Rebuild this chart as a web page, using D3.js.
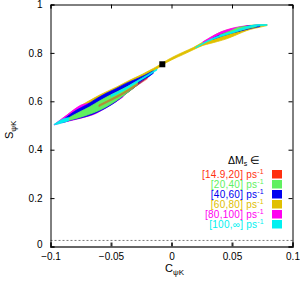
<!DOCTYPE html>
<html>
<head>
<meta charset="utf-8">
<script src="https://cdn.jsdelivr.net/npm/d3@7"></script>
<style>
  body { margin: 0; background: #fff; }
  svg { display: block; font-family: "Liberation Sans", Arial, sans-serif; }
  .tick text { font-size: 10px; fill: #000; }
</style>
</head>
<body>
<div id="chart"></div>
<script>
const width = 300;
const height = 282;

// tick values
const xTicks = [-0.1, -0.05, 0, 0.05, 0.1];
const yTicks = [0, 0.2, 0.4, 0.6, 0.8, 1];

// band outlines, rows are [C, S low, S high]
const yellowBand = [
  [-0.096, 0.505, 0.505], [-0.09, 0.515, 0.528], [-0.084, 0.523, 0.552], [-0.075, 0.532, 0.582],
  [-0.067, 0.542, 0.605], [-0.059, 0.563, 0.627], [-0.051, 0.585, 0.646], [-0.045, 0.605, 0.660],
  [-0.037, 0.633, 0.681], [-0.03, 0.660, 0.698], [-0.024, 0.688, 0.712], [-0.018, 0.712, 0.728],
  [-0.012, 0.734, 0.744], [-0.008, 0.749, 0.757], [0, 0.771, 0.780], [0.01, 0.794, 0.804],
  [0.018, 0.813, 0.822], [0.026, 0.831, 0.845], [0.032, 0.839, 0.862], [0.038, 0.847, 0.880],
  [0.046, 0.859, 0.895], [0.052, 0.871, 0.902], [0.059, 0.886, 0.909], [0.065, 0.897, 0.914],
  [0.073, 0.906, 0.916], [0.079, 0.913, 0.917]
];
const magentaLow = [
  [-0.097, 0.502, 0.504], [-0.092, 0.510, 0.523], [-0.086, 0.517, 0.545], [-0.08, 0.524, 0.568],
  [-0.075, 0.530, 0.584], [-0.07, 0.537, 0.590], [-0.064, 0.546, 0.594], [-0.058, 0.562, 0.600],
  [-0.052, 0.580, 0.606], [-0.046, 0.598, 0.612], [-0.04, 0.618, 0.625]
];
const magentaHigh = [
  [0.026, 0.842, 0.846], [0.032, 0.856, 0.864], [0.04, 0.873, 0.885], [0.048, 0.886, 0.899],
  [0.056, 0.897, 0.908], [0.064, 0.906, 0.913]
];
const blueLow = [
  [-0.09, 0.512, 0.521], [-0.084, 0.521, 0.545], [-0.078, 0.528, 0.565], [-0.07, 0.538, 0.586],
  [-0.062, 0.553, 0.611], [-0.054, 0.573, 0.633], [-0.046, 0.598, 0.652], [-0.038, 0.630, 0.673],
  [-0.03, 0.660, 0.690], [-0.022, 0.690, 0.708], [-0.015, 0.716, 0.726]
];
const blueHigh = [
  [0.034, 0.856, 0.860], [0.042, 0.870, 0.878], [0.05, 0.882, 0.890], [0.058, 0.892, 0.906],
  [0.066, 0.902, 0.913], [0.073, 0.909, 0.915]
];
const greenLow = [
  [-0.088, 0.517, 0.522], [-0.082, 0.525, 0.540], [-0.076, 0.533, 0.556], [-0.068, 0.546, 0.576],
  [-0.06, 0.562, 0.600], [-0.052, 0.583, 0.622], [-0.044, 0.608, 0.642], [-0.036, 0.638, 0.662],
  [-0.028, 0.668, 0.684]
];
const greenHigh = [
  [0.04, 0.868, 0.874], [0.048, 0.880, 0.889], [0.056, 0.892, 0.906], [0.064, 0.902, 0.910],
  [0.07, 0.908, 0.913]
];
const cyanTip = [
  [-0.097, 0.503, 0.505], [-0.093, 0.507, 0.518], [-0.089, 0.513, 0.528], [-0.085, 0.520, 0.532]
];
const cyanCore = [
  [-0.05, 0.620, 0.626], [-0.04, 0.644, 0.650], [-0.03, 0.674, 0.680], [-0.02, 0.704, 0.709],
  [-0.012, 0.729, 0.733]
];
const cyanHigh = [
  [0.02, 0.820, 0.823], [0.03, 0.847, 0.851], [0.04, 0.867, 0.872], [0.05, 0.882, 0.887],
  [0.068, 0.909, 0.915], [0.073, 0.912, 0.917], [0.079, 0.914, 0.917]
];
const redCore = [
  [-0.06, 0.578, 0.585], [-0.05, 0.603, 0.610], [-0.04, 0.629, 0.636], [-0.03, 0.660, 0.667],
  [-0.02, 0.692, 0.698]
];

// best fit point and lower line
const bestFit = [-0.0076, 0.753];
const dashedS = 0.025;

// legend
const legendLabels = ["[14.9,20]", "[20,40]", "[40,60]", "[60,80]", "[80,100]", "[100,\u221e]"];
const legendColors = ["#ff3010", "#60f060", "#0000f0", "#e0c000", "#ff00f0", "#00f0f0"];

const series = [
  { color: legendColors[3], parts: [yellowBand] },
  { color: legendColors[4], parts: [magentaLow, magentaHigh] },
  { color: legendColors[2], parts: [blueLow, blueHigh] },
  { color: legendColors[1], parts: [greenLow, greenHigh] },
  { color: legendColors[5], parts: [cyanTip, cyanCore, cyanHigh] },
  { color: legendColors[0], parts: [redCore], opacity: 0.45 }
];

const svg = d3.select("#chart")
    .append("svg")
    .attr("width", width)
    .attr("height", height);

const x = d3.scaleLinear().domain([-0.1, 0.1]).range([50.5, 292.5]);
const y = d3.scaleLinear().domain([0, 1]).range([246.5, 4.5]);

// bands
const area = d3.area()
    .x(d => x(d[0]))
    .y0(d => y(d[1]))
    .y1(d => y(d[2]))
    .curve(d3.curveMonotoneX);

series.forEach(s => {
    s.parts.forEach(p => {
        svg.append("path")
            .attr("d", area(p))
            .attr("fill", s.color)
            .attr("fill-opacity", s.opacity || 1)
            .attr("stroke", s.color)
            .attr("stroke-opacity", s.opacity || 1)
            .attr("stroke-width", 0.8);
    });
});

// dashed line
svg.append("line")
    .attr("x1", x(-0.1)).attr("x2", x(0.1))
    .attr("y1", y(dashedS)).attr("y2", y(dashedS))
    .attr("stroke", "#555")
    .attr("stroke-width", 0.8)
    .attr("stroke-dasharray", "2,2");

// best fit square
svg.append("rect")
    .attr("x", x(bestFit[0]) - 3)
    .attr("y", y(bestFit[1]) - 3)
    .attr("width", 6)
    .attr("height", 6)
    .attr("fill", "#000");

// axes
const gBottom = svg.append("g")
    .attr("transform", `translate(0,${y(0)})`)
    .call(d3.axisBottom(x).tickValues(xTicks).tickSize(-4).tickPadding(6).tickFormat(d3.format("")));
gBottom.select(".domain").attr("stroke", "#666").attr("stroke-width", 2);
gBottom.selectAll(".tick line").attr("stroke-width", 2).attr("stroke", "#333");

const gLeft = svg.append("g")
    .attr("transform", `translate(${x(-0.1)},0)`)
    .call(d3.axisLeft(y).tickValues(yTicks).tickSize(-4).tickPadding(8).tickFormat(d3.format("")));
gLeft.selectAll(".tick text").filter(d => d === 0).attr("dy", "0.1em");

svg.append("g")
    .attr("transform", `translate(0,${y(1)})`)
    .call(d3.axisTop(x).tickValues(xTicks).tickSize(-4).tickFormat(""));

svg.append("g")
    .attr("transform", `translate(${x(0.1)},0)`)
    .call(d3.axisRight(y).tickValues(yTicks).tickSize(-4).tickFormat(""));

svg.selectAll(".domain").filter(function () { return this.parentNode !== gBottom.node(); })
    .attr("stroke", "#000");

// axis labels
const xl = svg.append("text")
    .attr("x", 165)
    .attr("y", 272)
    .attr("font-size", 11);
xl.append("tspan").text("C");
xl.append("tspan").attr("dy", 3).attr("font-size", 8).text("\u03c8K");

const yl = svg.append("text")
    .attr("transform", "translate(13,139) rotate(-90)")
    .attr("font-size", 11);
yl.append("tspan").text("S");
yl.append("tspan").attr("dy", 3).attr("font-size", 8).text("\u03c8K");

// legend
const lt = svg.append("text")
    .attr("x", 228)
    .attr("y", 164)
    .attr("font-size", 10.5);
lt.append("tspan").text("\u0394M");
lt.append("tspan").attr("dy", 2).attr("font-size", 7).text("s");
lt.append("tspan").attr("dy", -2).text(" \u2208");

legendLabels.forEach((lab, i) => {
    const yy = 178 + i * 10;
    const t = svg.append("text")
        .attr("x", 264)
        .attr("y", yy)
        .attr("text-anchor", "end")
        .attr("font-size", 10)
        .attr("letter-spacing", 0.25)
        .attr("fill", legendColors[i]);
    t.append("tspan").text(lab + " ps");
    t.append("tspan").attr("dy", -4).attr("font-size", 7).text("-1");
    svg.append("rect")
        .attr("x", 272)
        .attr("y", yy - 8)
        .attr("width", 10)
        .attr("height", 8.5)
        .attr("fill", legendColors[i]);
});
</script>
</body>
</html>
